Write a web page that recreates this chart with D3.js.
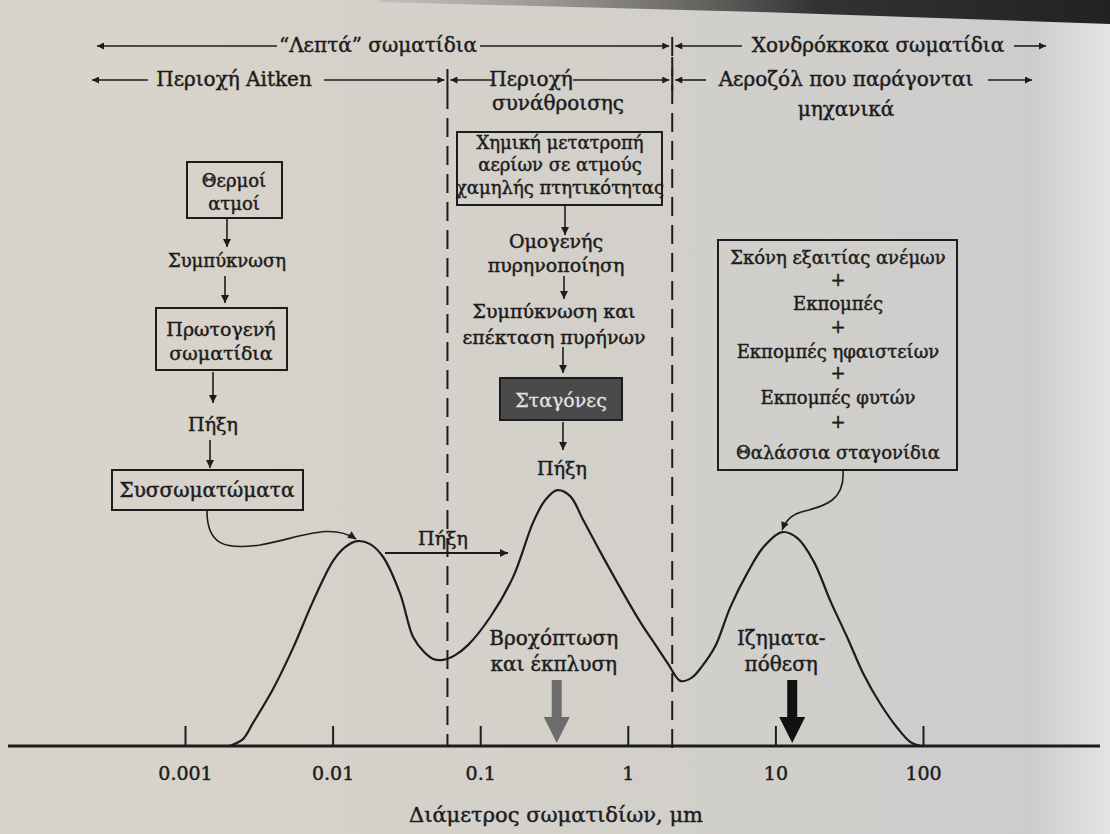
<!DOCTYPE html>
<html>
<head>
<meta charset="utf-8">
<script src="https://cdn.jsdelivr.net/npm/d3@7"></script>
<style>
  body { margin: 0; background: #d4d0c9; }
  svg text { font-family: "DejaVu Serif", serif; fill: #1c1c1c; stroke: #1c1c1c; stroke-width: 0.45px; }
</style>
</head>
<body>
<div id="chart"></div>
<script>
// particle size distribution (diameter in μm, relative number concentration)
var diameters = [0.0020, 0.00247, 0.00289, 0.00395, 0.0054, 0.00738, 0.01008, 0.01216, 0.01466, 0.01795,
  0.0220, 0.0287, 0.0351, 0.0417, 0.0480, 0.0561, 0.0677, 0.0829, 0.117, 0.167,
  0.229, 0.276, 0.333, 0.407, 0.499, 0.651, 0.890, 1.216, 1.56, 1.88,
  2.27, 2.70, 3.20, 3.92, 4.95, 6.46, 8.30, 11.1, 14.1, 18.1,
  23.6, 30.8, 39.5, 51.5, 67.1, 82.3, 96.2];
var concentration = [0, 0.023, 0.077, 0.19, 0.327, 0.483, 0.617, 0.663, 0.683, 0.673,
  0.63, 0.507, 0.363, 0.313, 0.29, 0.287, 0.303, 0.337, 0.43, 0.563,
  0.747, 0.82, 0.853, 0.833, 0.753, 0.647, 0.527, 0.413, 0.333, 0.273,
  0.217, 0.227, 0.267, 0.333, 0.463, 0.577, 0.663, 0.713, 0.693, 0.617,
  0.483, 0.36, 0.24, 0.14, 0.06, 0.013, 0];

var tickValues = [0.001, 0.01, 0.1, 1, 10, 100];
var tickLabels = ["0.001", "0.01", "0.1", "1", "10", "100"];
var axisTitle = "Διάμετρος σωματιδίων, μm";

// boundaries Aitken/accumulation and fine/coarse (μm)
var boundaries = [0.06, 2];

// removal processes
var removalDiameters = [0.33, 13];
var removalLabels = [["Βροχόπτωση", "και έκπλυση"], ["Ιζηματα-", "πόθεση"]];
var removalColors = ["#6c6c6c", "#111111"];

var svgWidth = 1110;
var svgHeight = 834;

var svg = d3.select("#chart")
  .append("svg")
  .attr("width", svgWidth)
  .attr("height", svgHeight);

var defs = svg.append("defs");

// paper background (photo look)
var bg = defs.append("linearGradient").attr("id", "paper");
bg.append("stop").attr("offset", "0%").attr("stop-color", "#d9d4cb");
bg.append("stop").attr("offset", "55%").attr("stop-color", "#d3d0ca");
bg.append("stop").attr("offset", "93%").attr("stop-color", "#cdcdcd");
bg.append("stop").attr("offset", "100%").attr("stop-color", "#e4e4e4");
svg.append("rect").attr("width", svgWidth).attr("height", svgHeight).attr("fill", "url(#paper)");

var shade = defs.append("linearGradient").attr("id", "shade");
shade.append("stop").attr("offset", "0%").attr("stop-color", "#777").attr("stop-opacity", 0.2);
shade.append("stop").attr("offset", "60%").attr("stop-color", "#2a2a2a").attr("stop-opacity", 0.95);
shade.append("stop").attr("offset", "100%").attr("stop-color", "#222").attr("stop-opacity", 1);
svg.append("path")
  .attr("d", "M380,0 L1110,0 L1110,24 L760,12 L380,2 Z")
  .attr("fill", "url(#shade)");

// arrow heads
defs.append("marker")
  .attr("id", "head")
  .attr("viewBox", "0 0 10 10")
  .attr("refX", 10).attr("refY", 5)
  .attr("markerWidth", 11).attr("markerHeight", 7)
  .attr("markerUnits", "userSpaceOnUse")
  .attr("orient", "auto-start-reverse")
  .append("path").attr("d", "M0,0 L10,5 L0,10 Z").attr("fill", "#1c1c1c");

defs.append("marker")
  .attr("id", "flow")
  .attr("viewBox", "0 0 10 10")
  .attr("refX", 10).attr("refY", 5)
  .attr("markerWidth", 9).attr("markerHeight", 8)
  .attr("markerUnits", "userSpaceOnUse")
  .attr("orient", "auto")
  .append("path").attr("d", "M0,0 L10,5 L0,10 Z").attr("fill", "#1c1c1c");

// scales
var xScale = d3.scaleLog().domain([0.001, 100]).range([185, 923]);
var yScale = d3.scaleLinear().domain([0, 1]).range([746, 446]);

var ink = "#1c1c1c";

// axis
var xAxis = d3.axisBottom(xScale)
  .tickValues(tickValues)
  .tickFormat(function(d, i) { return tickLabels[i]; })
  .tickSizeInner(-20)
  .tickSizeOuter(0)
  .tickPadding(21);

var axisG = svg.append("g")
  .attr("transform", `translate(0,${yScale(0)})`)
  .call(xAxis);
axisG.select(".domain").remove();
axisG.selectAll(".tick line").attr("stroke", ink).attr("stroke-width", 2);
axisG.selectAll(".tick text")
  .attr("fill", ink)
  .style("font-family", "'DejaVu Serif', serif")
  .style("font-size", "19px");

svg.append("line")
  .attr("x1", 8).attr("x2", 1100)
  .attr("y1", yScale(0)).attr("y2", yScale(0))
  .attr("stroke", ink).attr("stroke-width", 3);

svg.append("text")
  .attr("x", 556).attr("y", 822)
  .attr("text-anchor", "middle")
  .style("font-size", "21px")
  .text(axisTitle);

// dashed boundaries
var bx = boundaries.map(function(d) { return xScale(d); });
svg.append("line")
  .attr("x1", bx[0]).attr("x2", bx[0]).attr("y1", 90).attr("y2", yScale(0))
  .attr("stroke", ink).attr("stroke-width", 2).attr("stroke-dasharray", "19,9");
svg.append("line")
  .attr("x1", bx[1]).attr("x2", bx[1]).attr("y1", 57).attr("y2", yScale(0) + 4)
  .attr("stroke", ink).attr("stroke-width", 2).attr("stroke-dasharray", "19,9");

// boundary markers in the header rows
[[bx[1], 37, 56], [bx[0], 69, 90], [bx[1], 69, 90]].forEach(function(m) {
  svg.append("line").attr("x1", m[0]).attr("x2", m[0]).attr("y1", m[1]).attr("y2", m[2])
    .attr("stroke", ink).attr("stroke-width", 2);
});

function hArrow(x1, x2, y, startHead, endHead) {
  var l = svg.append("line")
    .attr("x1", x1).attr("x2", x2).attr("y1", y).attr("y2", y)
    .attr("stroke", ink).attr("stroke-width", 1.6);
  if (startHead) l.attr("marker-start", "url(#head)");
  if (endHead) l.attr("marker-end", "url(#head)");
}

function label(x, y, txt, size, anchor) {
  return svg.append("text")
    .attr("x", x).attr("y", y)
    .attr("text-anchor", anchor || "middle")
    .style("font-size", (size || 18) + "px")
    .text(txt);
}

// header row 1
var r1 = 46;
hArrow(97, 277, r1, true, false);
label(378, r1 + 6, "“Λεπτά” σωματίδια", 20);
hArrow(480, bx[1] - 3, r1, false, true);
hArrow(bx[1] + 3, 742, r1, true, false);
label(878, r1 + 6, "Χονδρόκκοκα σωματίδια", 20);
hArrow(1014, 1046, r1, false, true);

// header row 2
var r2 = 80;
hArrow(92, 148, r2, true, false);
label(234, r2 + 6, "Περιοχή Aitken", 20);
hArrow(324, bx[0] - 3, r2, false, true);
hArrow(bx[0] + 3, 492, r2, true, false);
label(531, r2 + 6, "Περιοχή", 20);
hArrow(573, bx[1] - 3, r2, false, true);
hArrow(bx[1] + 3, 706, r2, true, false);
label(846, r2 + 6, "Αεροζόλ που παράγονται", 20);
hArrow(988, 1032, r2, false, true);
label(558, 110, "συνάθροισης", 20);
label(846, 116, "μηχανικά", 20);

// boxes and flow
function box(x0, y0, x1, y1, fill) {
  svg.append("rect")
    .attr("x", x0).attr("y", y0).attr("width", x1 - x0).attr("height", y1 - y0)
    .attr("fill", fill || "none").attr("stroke", ink).attr("stroke-width", 2);
}
function vArrow(x, y0, y1) {
  svg.append("line")
    .attr("x1", x).attr("x2", x).attr("y1", y0).attr("y2", y1)
    .attr("stroke", ink).attr("stroke-width", 1.6)
    .attr("marker-end", "url(#flow)");
}

// left column
box(187, 162, 282, 218);
label(234, 187, "Θερμοί");
label(234, 210, "ατμοί");
vArrow(227, 219, 247);
label(227, 267, "Συμπύκνωση");
vArrow(225, 276, 303);
box(156, 308, 287, 370);
label(221, 336, "Πρωτογενή", 19);
label(221, 360, "σωματίδια", 19);
vArrow(213, 372, 403);
label(213, 431, "Πήξη", 19);
vArrow(210, 440, 468);
box(112, 470, 303, 510);
label(207, 497, "Συσσωματώματα", 20);

// middle column
box(457, 132, 662, 205);
label(560, 149, "Χημική μετατροπή");
label(560, 171, "αερίων σε ατμούς");
label(560, 194, "χαμηλής πτητικότητας");
vArrow(565, 206, 235);
label(556, 248, "Ομογενής", 19);
label(556, 272, "πυρηνοποίηση", 19);
vArrow(564, 276, 299);
label(554, 318, "Συμπύκνωση και", 19);
label(554, 344, "επέκταση πυρήνων", 19);
vArrow(563, 347, 373);
box(500, 378, 622, 420, "#4a4a4a");
label(561, 407, "Σταγόνες", 19).style("fill", "#e2e2e2").style("stroke", "#e2e2e2").style("stroke-width", "0.3px");
vArrow(563, 422, 450);
label(562, 475, "Πήξη", 19);

// right column
box(718, 240, 957, 470);
var rightLines = ["Σκόνη εξαιτίας ανέμων", "+", "Εκπομπές", "+", "Εκπομπές ηφαιστείων", "+", "Εκπομπές φυτών", "+", "Θαλάσσια σταγονίδια"];
var rightBase = [264, 286, 310, 333, 358, 379, 404, 428, 459];
rightLines.forEach(function(t, i) { label(838, rightBase[i], t); });

// distribution curve
var pts = diameters.map(function(d, i) { return [xScale(d), yScale(concentration[i])]; });
var line = d3.line().curve(d3.curveCatmullRom.alpha(0.5));
svg.append("path")
  .attr("d", line(pts))
  .attr("fill", "none")
  .attr("stroke", ink)
  .attr("stroke-width", 2.2);

// peaks of the three modes
function peakIn(lo, hi) {
  var best = -1;
  diameters.forEach(function(d, i) {
    if (d >= lo && d <= hi && (best < 0 || concentration[i] > concentration[best])) best = i;
  });
  return [xScale(diameters[best]), yScale(concentration[best])];
}
var p1 = peakIn(0.001, boundaries[0]);
var p3 = peakIn(boundaries[1], 100);

// connectors to peaks
svg.append("path")
  .attr("d", `M207,511 C207,545 225,550 260,545 C300,538 330,522 ${p1[0] - 1},${p1[1] - 2}`)
  .attr("fill", "none").attr("stroke", ink).attr("stroke-width", 1.6)
  .attr("marker-end", "url(#flow)");
svg.append("path")
  .attr("d", `M843,471 C845,500 825,506 805,511 C792,514 786,520 ${p3[0]},${p3[1] - 2}`)
  .attr("fill", "none").attr("stroke", ink).attr("stroke-width", 1.6)
  .attr("marker-end", "url(#flow)");

// coagulation arrow between modes
label(443, 545, "Πήξη", 19);
svg.append("line")
  .attr("x1", 385).attr("x2", 508).attr("y1", 553).attr("y2", 553)
  .attr("stroke", ink).attr("stroke-width", 1.8)
  .attr("marker-end", "url(#flow)");

// removal arrows
removalDiameters.forEach(function(d, i) {
  var cx = xScale(d);
  var tip = yScale(0) - 3;
  var top = 680;
  var hw = 13, sw = 5, hl = 26;
  svg.append("path")
    .attr("d", `M${cx - sw},${top} L${cx + sw},${top} L${cx + sw},${tip - hl} L${cx + hw},${tip - hl} L${cx},${tip} L${cx - hw},${tip - hl} L${cx - sw},${tip - hl} Z`)
    .attr("fill", removalColors[i]);
  label(cx - 3 - i * 8, 645, removalLabels[i][0], 20);
  label(cx - 3 - i * 8, 671, removalLabels[i][1], 20);
});
</script>
</body>
</html>
